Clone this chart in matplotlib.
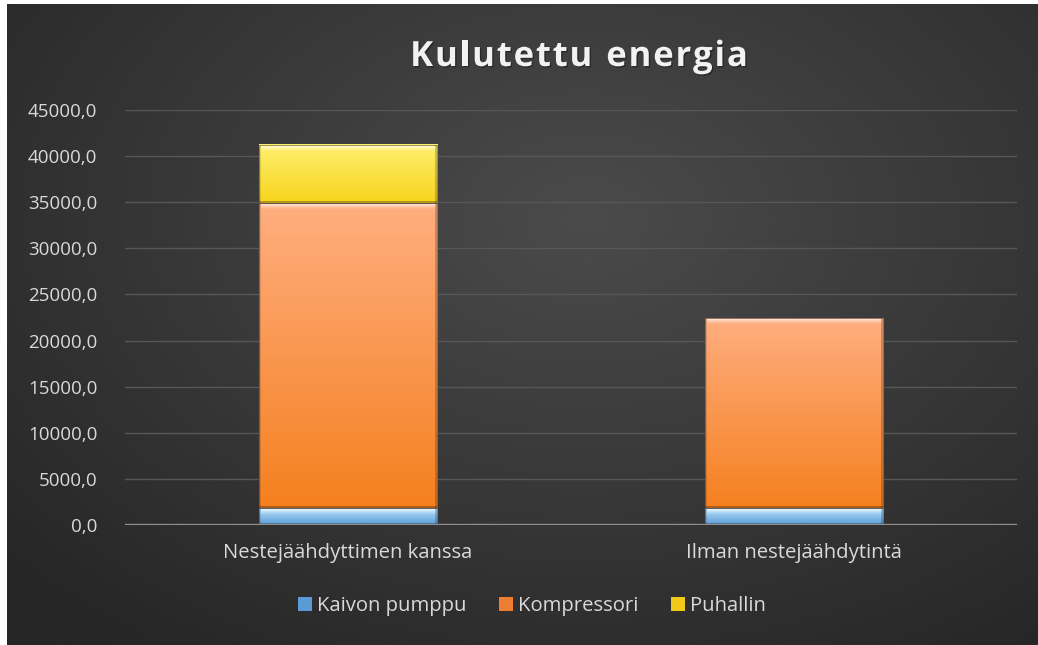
import numpy as np
import matplotlib
matplotlib.use("Agg")
import matplotlib.pyplot as plt
from matplotlib.patches import Patch, Rectangle
from matplotlib.colors import LinearSegmentedColormap, to_rgb
import matplotlib.patheffects as pe

plt.rcParams['font.family'] = ['Open Sans', 'DejaVu Sans']

categories = ["Nestejäähdyttimen kanssa", "Ilman nestejäähdytintä"]
series_names = ["Kaivon pumppu", "Kompressori", "Puhallin"]
kaivon_pumppu = [1800, 1800]
kompressori = [33070, 20600]
puhallin = [6300, 0]
yticks = [0, 5000, 10000, 15000, 20000, 25000, 30000, 35000, 40000, 45000]
title = "Kulutettu energia"

# (top colour, bottom colour, legend colour)
colors = {
    "Kaivon pumppu": ("#b8e4ff", "#5b9bd5", "#5b9bd5"),
    "Kompressori": ("#ffae80", "#f5801f", "#ed7d31"),
    "Puhallin": ("#fff070", "#f7d31c", "#f2c919"),
}

W, H = 1038, 645
fig = plt.figure(figsize=(W / 100, H / 100), dpi=100)
fig.patch.set_facecolor("white")

# background with radial gradient
bg = fig.add_axes([7 / W, 0, 1 - 7 / W, 1 - 4 / H])
bg.set_axis_off()
yy, xx = np.mgrid[0:300, 0:500]
cx, cy = 280, 100
d = np.sqrt(((xx - cx) / 500) ** 2 + ((yy - cy) / 330) ** 2)
d = np.clip(d / 0.75, 0, 1)
inner = np.array(to_rgb("#4b4b4b"))
outer = np.array(to_rgb("#262626"))
img = inner[None, None, :] * (1 - d[..., None]) + outer[None, None, :] * d[..., None]
bg.imshow(img, aspect="auto", extent=[0, 1, 0, 1], origin="upper")
bg.set_xlim(0, 1)
bg.set_ylim(0, 1)

ax_px_w, ax_px_h = 1017 - 125, 525 - 110
ax = fig.add_axes([125 / W, 120 / H, ax_px_w / W, ax_px_h / H])
ax.set_facecolor("none")
for s in ax.spines.values():
    s.set_visible(False)
ax.set_yticks(yticks)
ax.set_yticklabels([f"{v:.1f}".replace(".", ",") for v in yticks], color="#d9d9d9", fontsize=13.5)
ax.tick_params(axis="y", length=0, pad=20)
ax.set_xticks(range(len(categories)))
ax.set_xticklabels(categories, color="#d9d9d9", fontsize=14.6)
ax.tick_params(axis="x", length=0, pad=13)
ax.grid(axis="y", color="#575757", lw=1)
ax.set_axisbelow(True)
ax.axhline(0, color="#8f8f8f", lw=2.4, zorder=5)

ymax = 45000
px_y = ymax / ax_px_h      # data units per pixel (y)
px_x = 2.0 / ax_px_w       # data units per pixel (x)

width = 0.4
data = [kaivon_pumppu, kompressori, puhallin]
bottoms = np.zeros(len(categories))
for name, vals in zip(series_names, data):
    top_c, bot_c, _ = colors[name]
    cmap = LinearSegmentedColormap.from_list(name, [bot_c, top_c])
    for i, v in enumerate(vals):
        if v <= 0:
            continue
        x0, x1 = i - width / 2, i + width / 2
        y0, y1 = bottoms[i], bottoms[i] + v
        grad = np.linspace(0, 1, 256).reshape(-1, 1)
        ax.imshow(grad, cmap=cmap, origin="lower", aspect="auto",
                  extent=[x0, x1, y0, y1], zorder=3, interpolation="bilinear")
        # bevel inside the bar
        hl = np.linspace(0, 1, 32).reshape(-1, 1)
        hl_img = np.ones((32, 1, 4))
        hl_img[..., 3] = (hl ** 1.5) * 0.7
        ax.imshow(hl_img, origin="lower", aspect="auto",
                  extent=[x0 + 2 * px_x, x1 - 2 * px_x, y1 - 7 * px_y, y1 - 1 * px_y],
                  zorder=4, interpolation="bilinear")
        ax.add_patch(Rectangle((x0, y0), 2.5 * px_x, v, facecolor="black", alpha=0.12,
                               edgecolor="none", zorder=4))
        ax.add_patch(Rectangle((x1 - 2.5 * px_x, y0), 2.5 * px_x, v, facecolor="black",
                               alpha=0.2, edgecolor="none", zorder=4))
        ax.add_patch(Rectangle((x0, y0), width, 2.5 * px_y, facecolor="black", alpha=0.28,
                               edgecolor="none", zorder=4))
        ax.add_patch(Rectangle((x0, y0), width, v, facecolor="none", edgecolor="#3a3a3a",
                               lw=0.6, alpha=0.6, zorder=4))
        bottoms[i] += v
ax.set_xlim(-0.5, 1.5)
ax.set_ylim(0, ymax)

# title with letter spacing
renderer = fig.canvas.get_renderer()
fs = 25
spacing = 1.8  # px
widths = []
for ch in title:
    t = fig.text(0, 0, ch if ch != " " else "n", fontsize=fs, fontweight="bold")
    bb = t.get_window_extent(renderer)
    widths.append(bb.width * (0.45 if ch == " " else 1.0))
    t.remove()
total = sum(widths) + spacing * (len(title) - 1)
x = 579 - total / 2
for ch, w in zip(title, widths):
    if ch != " ":
        fig.text(x / W, 1 - 57 / H, ch, ha="left", va="center", fontsize=fs,
                 fontweight="bold", color="#f2f2f2",
                 path_effects=[pe.withSimplePatchShadow(offset=(1.0, -1.0), shadow_rgbFace="black", alpha=0.35)])
    x += w + spacing

handles = [Patch(facecolor=colors[n][2], edgecolor="none") for n in series_names]
leg = fig.legend(handles, series_names, loc="center", bbox_to_anchor=(532 / W, 1 - 606 / H),
                 ncol=3, frameon=False, fontsize=14.6, handlelength=0.7, handleheight=0.7,
                 handletextpad=0.25, columnspacing=1.6)
for t in leg.get_texts():
    t.set_color("#d9d9d9")

fig.savefig("out.png", dpi=100, facecolor=fig.get_facecolor())
